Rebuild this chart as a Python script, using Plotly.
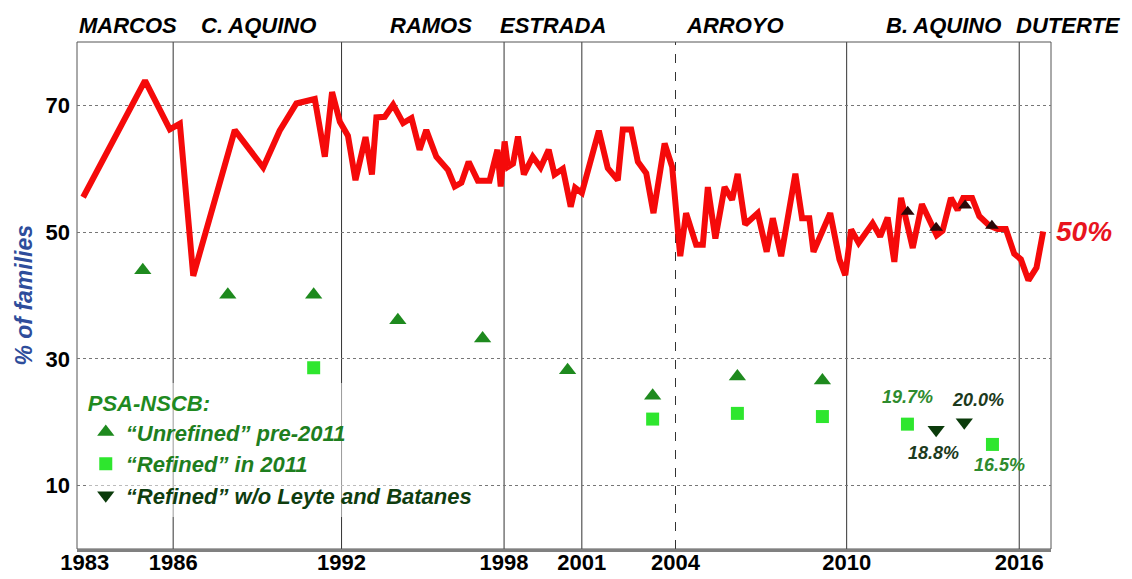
import plotly.graph_objects as go

# ---- data ----
sws_year = [1982.92, 1985.14, 1986.03, 1986.39, 1986.87, 1988.36, 1989.38, 1989.97, 1990.57, 1991.23,
            1991.59, 1991.85, 1992.13, 1992.42, 1992.69, 1993.05, 1993.28, 1993.44, 1993.74, 1994.04,
            1994.40, 1994.70, 1994.99, 1995.23, 1995.59, 1996.01, 1996.25, 1996.49, 1996.75, 1997.08,
            1997.50, 1997.78, 1997.90, 1998.04, 1998.16, 1998.34, 1998.52, 1998.73, 1999.05, 1999.33,
            1999.62, 1999.83, 2000.13, 2000.41, 2000.57, 2000.81, 2001.42, 2001.74, 2002.10, 2002.28,
            2002.58, 2002.82, 2003.12, 2003.38, 2003.78, 2004.05, 2004.34, 2004.55, 2004.91, 2005.15,
            2005.33, 2005.60, 2005.93, 2006.20, 2006.40, 2006.67, 2007.12, 2007.44, 2007.66, 2007.96,
            2008.47, 2008.71, 2008.97, 2009.12, 2009.72, 2010.05, 2010.26, 2010.47, 2010.74, 2011.24,
            2011.51, 2011.78, 2012.02, 2012.26, 2012.68, 2013.01, 2013.54, 2013.75, 2014.05, 2014.29,
            2014.49, 2014.81, 2015.07, 2015.43, 2015.72, 2016.02, 2016.32, 2016.56, 2016.83, 2017.12,
            2017.36]
sws_pct = [55.5, 73.9, 66.2, 67.1, 43.1, 66.1, 60.2, 66.0, 70.3, 71.0,
           61.9, 72.1, 67.4, 65.2, 58.2, 65.0, 59.1, 68.1, 68.2, 70.1,
           67.2, 68.0, 63.0, 66.1, 61.9, 59.8, 57.2, 57.8, 61.1, 58.1,
           58.1, 63.0, 57.2, 64.3, 60.3, 60.8, 65.1, 59.1, 61.9, 60.2,
           63.0, 59.1, 60.0, 54.0, 57.0, 56.2, 66.0, 60.1, 58.2, 66.2,
           66.2, 61.1, 59.3, 53.0, 64.0, 60.3, 46.2, 53.0, 48.0, 48.0,
           57.1, 49.0, 57.1, 55.1, 59.2, 51.2, 53.0, 46.9, 52.2, 46.2,
           59.2, 52.2, 52.2, 46.9, 53.0, 45.7, 43.2, 50.4, 48.3, 51.4,
           49.3, 52.3, 45.3, 55.4, 47.5, 54.4, 49.5, 50.2, 55.4, 53.5,
           55.4, 55.4, 52.5, 51.0, 50.5, 50.5, 46.6, 45.7, 42.4, 44.4,
           50.1]

other_year = [2012.50, 2013.52, 2014.56, 2015.52]
other_pct = [53.2, 50.7, 54.2, 51.0]

unref_year = [1985.06, 1988.11, 1991.19, 1994.21, 1997.25, 2000.30, 2003.35, 2006.39, 2009.44]
unref_pct = [44.0, 40.1, 40.1, 36.1, 33.2, 28.2, 24.2, 27.2, 26.6]

ref_year = [1991.19, 2003.35, 2006.39, 2009.44, 2012.49, 2015.54]
ref_pct = [28.6, 20.5, 21.4, 20.9, 19.7, 16.5]

noleyte_year = [2013.52, 2014.53]
noleyte_pct = [18.8, 20.0]

presidents = ["MARCOS", "C. AQUINO", "RAMOS", "ESTRADA", "ARROYO", "B. AQUINO", "DUTERTE"]
pres_label_x = [0.0525, 0.1860, 0.3635, 0.4887, 0.6756, 0.8901, 1.0175]   # paper fraction
term_lines = [1986.15, 1992.19, 1998.02, 2000.81, 2004.17, 2010.31, 2016.50]
term_dash = ["solid", "solid", "solid", "solid", "dash", "solid", "solid"]

x_tick_vals = [1982.98, 1986.15, 1992.19, 1998.02, 2000.81, 2004.17, 2010.31, 2016.50]
x_tick_text = ["1983", "1986", "1992", "1998", "2001", "2004", "2010", "2016"]
y_ticks = [10, 30, 50, 70]

FONT = "Liberation Sans, Arial, sans-serif"
GREEN = "#1E8A1E"
BRIGHT = "#2EE62E"
DARK = "#0B3B0B"

fig = go.Figure()

fig.add_trace(go.Scatter(x=sws_year, y=sws_pct, mode="lines",
                         line=dict(color="#F50A0A", width=6), showlegend=False,
                         hoverinfo="x+y"))
fig.add_trace(go.Scatter(x=other_year, y=other_pct, mode="markers",
                         marker=dict(symbol="triangle-up", size=12, color="#2A0808"),
                         showlegend=False))
fig.add_trace(go.Scatter(x=unref_year, y=unref_pct, mode="markers",
                         marker=dict(symbol="triangle-up", size=15, color=GREEN),
                         name="<span style='color:#1E7E1E'>“Unrefined” pre-2011</span>"))
fig.add_trace(go.Scatter(x=ref_year, y=ref_pct, mode="markers",
                         marker=dict(symbol="square", size=13, color=BRIGHT),
                         name="<span style='color:#1E7E1E'>“Refined” in 2011</span>"))
fig.add_trace(go.Scatter(x=noleyte_year, y=noleyte_pct, mode="markers",
                         marker=dict(symbol="triangle-down", size=15, color=DARK),
                         name="<span style='color:#0F3D0F'>“Refined” w/o Leyte and Batanes</span>"))

shapes = []
for xv, d in zip(term_lines, term_dash):
    shapes.append(dict(type="line", xref="x", yref="paper", x0=xv, x1=xv, y0=0, y1=1,
                       line=dict(color="#333333", width=1, dash=d), layer="below"))
shapes.append(dict(type="rect", xref="paper", yref="paper", x0=0, x1=1, y0=0, y1=1,
                   line=dict(color="#555555", width=1), layer="below"))

annotations = []
for name, xv in zip(presidents, pres_label_x):
    annotations.append(dict(x=xv, y=1.0335, xref="paper", yref="paper", text=name, showarrow=False,
                            xanchor="center", yanchor="middle",
                            font=dict(family=FONT, size=22, color="black", weight="bold", style="italic")))
annotations.append(dict(x=-0.0554, y=0.50, xref="paper", yref="paper", text="% of families",
                        textangle=-90, showarrow=False, xanchor="center", yanchor="middle",
                        font=dict(family=FONT, size=23, color="#2E4D9B", weight="bold", style="italic")))
annotations.append(dict(x=1.0, y=sws_pct[-1], xref="paper", yref="y", text="50%", showarrow=False,
                        xanchor="left", yanchor="middle", xshift=3,
                        font=dict(family=FONT, size=28, color="#E8141E", weight="bold", style="italic")))
lbl = [("19.7%", ref_year[4], ref_pct[4], 0, 27, "#2E8B2E"),
       ("16.5%", ref_year[5], ref_pct[5], 7, -21, "#2E8B2E"),
       ("18.8%", noleyte_year[0], noleyte_pct[0], -3, -23, "#1C3A1C"),
       ("20.0%", noleyte_year[1], noleyte_pct[1], 14, 22, "#1C3A1C")]
for t, xv, yv, xs, ys, c in lbl:
    annotations.append(dict(x=xv, y=yv, xref="x", yref="y", text=t, showarrow=False,
                            xshift=xs, yshift=ys, xanchor="center", yanchor="middle",
                            font=dict(family=FONT, size=18, color=c, weight="bold", style="italic")))

fig.update_layout(
    width=1132, height=579,
    margin=dict(l=77, r=81, t=42, b=30, autoexpand=False),
    paper_bgcolor="white", plot_bgcolor="white",
    font=dict(family=FONT),
    shapes=shapes, annotations=annotations,
    legend=dict(x=0.009, y=0.328, xanchor="left", yanchor="top",
                bgcolor="rgba(255,255,255,0.5)", borderwidth=0,
                title=dict(text="PSA-NSCB:", font=dict(family=FONT, size=22, color="#1F8A1F",
                                                       weight="bold", style="italic")),
                font=dict(family=FONT, size=22, weight="bold", style="italic"),
                tracegroupgap=0, itemwidth=30),
    xaxis=dict(range=[1982.70, 2017.64], tickvals=x_tick_vals, ticktext=x_tick_text,
               showgrid=False, zeroline=False, showline=True, linecolor="#808080", linewidth=3,
               ticks="", ticklabelstandoff=-8, automargin=False,
               tickfont=dict(family=FONT, size=22, color="black", weight="bold")),
    yaxis=dict(range=[0, 80], tickvals=y_ticks, showgrid=True, gridcolor="#777777",
               griddash="dot", gridwidth=1, zeroline=False, showline=False, ticks="",
               ticklabelstandoff=6, automargin=False,
               tickfont=dict(family=FONT, size=22, color="black", weight="bold")),
)

fig.write_html("out.html", config={"displayModeBar": False},
               post_script="document.body.style.margin='0';")
